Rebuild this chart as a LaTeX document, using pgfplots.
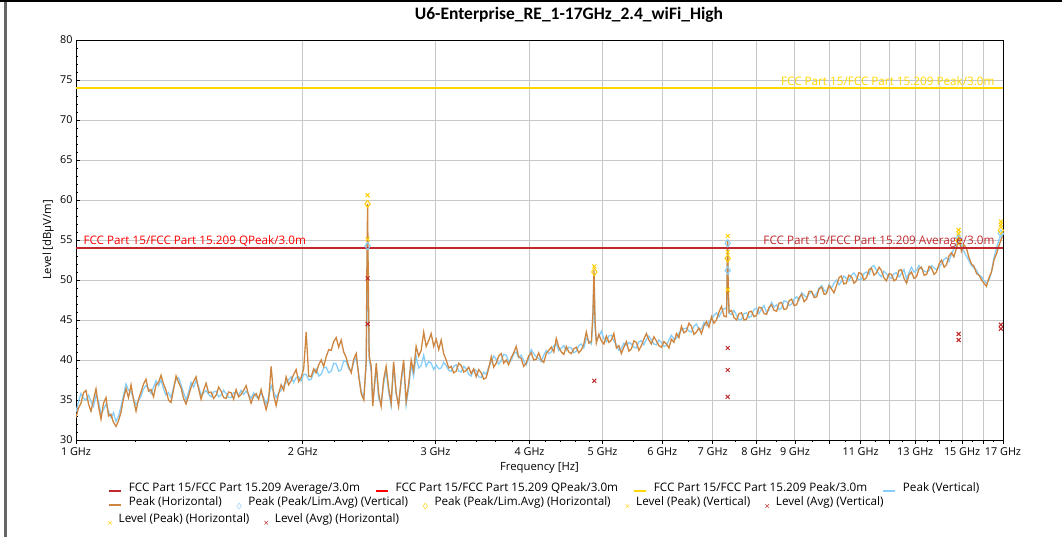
\documentclass[border=0pt]{standalone}
\usepackage{pgfplots}
\pgfplotsset{compat=1.18}
\usepackage{fontspec}
\setmainfont{Open Sans}
\newfontfamily\titlefont{Carlito}

\definecolor{traceH}{RGB}{205,133,63}
\definecolor{traceV}{RGB}{135,206,250}
\definecolor{limPk}{RGB}{255,215,0}
\definecolor{limAv}{RGB}{192,40,45}
\definecolor{limQp}{RGB}{255,0,0}
\definecolor{avgX}{RGB}{190,40,40}
\definecolor{pkX}{RGB}{255,205,0}

\newcommand{\lbl}{\fontsize{11.7}{14}\selectfont}

\pgfplotsset{
  lineleg/.style={legend image code/.code={\draw[##1,line width=1.2pt] (0pt,-3pt) -- (12.5pt,-3pt);}},
  markleg/.style={legend image code/.code={\draw[##1] plot coordinates {(6pt,-4pt)};}},
  legrow/.style={hide axis, anchor=south west, width=10pt, height=10pt, scale only axis,
    xmin=0, xmax=1, ymin=0, ymax=1, legend columns=-1,
    legend style={at={(0,0.5)}, anchor=west, draw=none, fill=none, inner sep=0pt,
      font=\lbl, nodes={inner sep=0pt},
      /tikz/every odd column/.append style={column sep=7pt},
      /tikz/every even column/.append style={column sep=15pt}}},
}

\begin{document}
\begin{tikzpicture}
\useasboundingbox (0pt,0pt) rectangle (1062pt,537pt);
\draw[line width=3pt, black!60] (5pt,0pt) -- (5pt,537pt);
\draw[line width=1.5pt, black] (0pt,536.2pt) -- (1062pt,536.2pt);

\begin{axis}[
  at={(76pt,97pt)}, anchor=south west,
  width=927pt, height=400pt, scale only axis,
  xmode=log, xmin=1, xmax=17, ymin=30, ymax=80,
  xtick={1,2,3,4,5,6,7,8,9,10,11,12,13,14,15,16,17},
  xticklabels={1 GHz,2 GHz,3 GHz,4 GHz,5 GHz,6 GHz,7 GHz,8 GHz,9 GHz,,11 GHz,,13 GHz,,15 GHz,,17 GHz},
  minor xtick={1.2,1.4,1.6,1.8,2.2,2.4,2.6,2.8,3.2,3.4,3.6,3.8,4.2,4.4,4.6,4.8,5.5,6.5,7.5,8.5,9.5,10.5,11.5,12.5,13.5,14.5,15.5,16.5},
  ytick={30,35,40,45,50,55,60,65,70,75,80},
  minor y tick num=4,
  xmajorgrids, ymajorgrids,
  grid style={black!22, line width=0.9pt},
  xtick align=outside, tick pos=left,
  major tick length=4pt, minor tick length=2.5pt,
  tick style={black, line width=0.6pt},
  axis line style={black, line width=0.9pt},
  ticklabel style={font=\fontsize{10.8}{12}\selectfont},
  /pgf/number format/assume math mode=true,
]
% Peak (Vertical)
\addplot[draw=traceV, line width=1.3pt] coordinates {
(1.0000,33.5) (1.0077,34.8) (1.0154,35.8) (1.0232,35.2) (1.0311,35.0) (1.0390,35.6) (1.0469,34.8) (1.0549,34.2) (1.0631,35.6) (1.0713,34.8)
(1.0795,33.3) (1.0878,33.8) (1.0961,34.5) (1.1045,33.6) (1.1130,32.8) (1.1215,33.4) (1.1301,32.3) (1.1388,33.0) (1.1476,34.2) (1.1564,35.6)
(1.1652,37.0) (1.1741,36.2) (1.1832,36.0) (1.1923,35.2) (1.2014,34.4) (1.2106,34.9) (1.2199,35.5) (1.2293,36.4) (1.2387,36.8) (1.2482,36.4)
(1.2578,35.8) (1.2674,36.6) (1.2772,37.4) (1.2870,36.8) (1.2969,37.5) (1.3068,36.4) (1.3168,35.6) (1.3269,35.9) (1.3371,35.3) (1.3474,36.6)
(1.3578,37.6) (1.3682,37.8) (1.3787,36.9) (1.3893,35.9) (1.3999,35.0) (1.4106,36.0) (1.4215,37.2) (1.4324,36.6) (1.4434,37.4) (1.4545,36.7)
(1.4657,35.6) (1.4769,35.9) (1.4883,36.2) (1.4997,35.7) (1.5112,35.4) (1.5228,36.0) (1.5345,36.1) (1.5463,35.4) (1.5582,35.6) (1.5701,36.2)
(1.5822,35.8) (1.5943,35.3) (1.6066,35.3) (1.6189,35.9) (1.6313,36.0) (1.6438,35.6) (1.6565,36.2) (1.6692,35.7) (1.6820,36.1) (1.6949,35.7)
(1.7079,35.2) (1.7210,35.9) (1.7343,35.4) (1.7476,35.2) (1.7610,35.9) (1.7745,35.3) (1.7881,34.5) (1.8018,35.4) (1.8157,36.8) (1.8296,36.0)
(1.8436,35.3) (1.8577,35.9) (1.8721,36.2) (1.8865,36.8) (1.9009,37.2) (1.9155,37.5) (1.9302,37.9) (1.9450,37.2) (1.9600,37.8) (1.9750,37.9)
(1.9902,37.4) (2.0055,38.2) (2.0208,38.2) (2.0363,37.5) (2.0520,37.6) (2.0677,38.4) (2.0836,38.9) (2.0996,38.0) (2.1157,38.2) (2.1319,39.0)
(2.1483,39.1) (2.1648,38.4) (2.1814,38.6) (2.1981,39.6) (2.2150,39.5) (2.2320,38.6) (2.2491,38.8) (2.2663,39.9) (2.2838,39.8) (2.3013,38.9)
(2.3190,38.6) (2.3368,39.7) (2.3547,40.3) (2.3728,38.2) (2.3910,36.0) (2.4100,35.4) (2.4279,39.5)
(2.4330,48.0) (2.4380,55.0) (2.4430,47.0) (2.4500,40.0) (2.4653,38.6) (2.4766,34.6) (2.5033,39.0) (2.5220,35.2) (2.541,34.5) (2.560,37.0)
(2.580,38.8) (2.600,36.0) (2.620,34.3) (2.640,39.5) (2.660,35.8) (2.680,34.4) (2.701,37.2) (2.722,39.6) (2.743,34.4) (2.764,36.5)
(2.785,39.4) (2.806,38.0) (2.828,40.5) (2.850,39.0) (2.872,39.3) (2.894,40.6) (2.916,39.2) (2.938,39.8) (2.961,39.6) (2.984,38.8)
(3.007,39.4) (3.030,38.9) (3.053,39.0) (3.076,39.7) (3.100,39.3) (3.124,38.7) (3.148,38.6) (3.172,39.2) (3.196,39.4) (3.221,38.6)
(3.246,38.5) (3.271,39.2) (3.296,38.9) (3.321,38.2) (3.346,38.0) (3.372,38.8) (3.398,38.7) (3.424,37.9) (3.450,37.8) (3.477,38.5)
(3.504,38.2) (3.531,39.2) (3.558,39.8) (3.585,40.5) (3.612,40.1) (3.640,39.5) (3.668,39.9) (3.696,40.7) (3.724,40.6) (3.753,39.8)
(3.782,39.9) (3.811,40.8) (3.840,41.0) (3.869,40.3) (3.899,40.6) (3.929,39.9) (3.959,39.4) (3.989,40.2) (4.020,41.3) (4.051,40.8)
(4.082,40.4) (4.113,40.2) (4.145,39.8) (4.177,40.6) (4.209,41.2) (4.241,40.8) (4.274,41.0) (4.307,41.8) (4.340,42.0) (4.373,41.2)
(4.407,41.5) (4.441,41.8) (4.475,41.2) (4.509,41.6) (4.544,41.5) (4.579,40.9) (4.614,41.1) (4.649,41.8) (4.685,42.0) (4.721,41.5)
(4.757,42.7) (4.794,42.4) (4.831,42.0) (4.855,45.0) (4.870,50.8) (4.885,44.0) (4.905,42.6) (4.943,42.9) (4.981,43.6) (5.019,42.7)
(5.058,42.3) (5.097,43.0) (5.136,43.1) (5.175,42.4) (5.215,41.9) (5.255,41.2) (5.295,41.4) (5.336,42.1) (5.377,41.8) (5.418,42.2)
(5.460,42.0) (5.502,41.6) (5.544,41.5) (5.586,42.3) (5.629,42.4) (5.672,41.9) (5.716,42.6) (5.760,43.0) (5.804,42.5) (5.848,42.0)
(5.893,41.9) (5.938,42.5) (5.984,42.2) (6.030,41.7) (6.077,41.8) (6.124,42.5) (6.170,43.1) (6.217,42.6) (6.266,42.7) (6.314,43.4)
(6.362,43.7) (6.411,43.9) (6.460,44.0) (6.510,43.6) (6.560,43.5) (6.610,44.2) (6.661,44.5) (6.712,43.8) (6.764,43.9) (6.816,44.7)
(6.868,44.3) (6.921,44.8) (6.974,45.0) (7.027,45.6) (7.081,45.9) (7.136,45.4) (7.191,46.0) (7.246,46.4) (7.302,46.5) (7.315,49.0)
(7.328,54.6) (7.341,48.0) (7.360,45.8) (7.414,45.7) (7.471,46.2) (7.529,45.6) (7.587,45.0) (7.645,45.1) (7.704,45.8) (7.763,45.9)
(7.822,45.3) (7.882,45.5) (7.942,46.3) (8.004,46.5) (8.065,45.8) (8.127,46.4) (8.189,46.8) (8.253,45.9) (8.316,46.3) (8.380,47.2)
(8.444,46.6) (8.509,46.9) (8.574,46.3) (8.640,46.5) (8.706,47.4) (8.774,47.3) (8.841,46.8) (8.909,47.0) (8.977,47.6) (9.046,47.9)
(9.115,47.5) (9.186,48.4) (9.256,48.1) (9.328,47.8) (9.399,48.3) (9.471,48.5) (9.544,48.0) (9.618,48.3) (9.691,49.0) (9.766,49.3)
(9.841,48.7) (9.91,48.5) (9.99,49.4) (10.06,49.0) (10.14,49.6) (10.22,50.0) (10.30,49.4) (10.37,49.8) (10.45,50.5) (10.53,50.2)
(10.61,49.9) (10.70,50.6) (10.78,50.9) (10.86,50.4) (10.94,50.0) (11.03,50.1) (11.11,50.8) (11.20,51.0) (11.29,50.7) (11.37,51.6)
(11.46,51.8) (11.55,51.2) (11.64,50.7) (11.72,50.4) (11.81,51.1) (11.90,50.8) (12.00,50.3) (12.09,50.2) (12.18,50.8) (12.27,50.9)
(12.37,50.4) (12.46,50.8) (12.56,51.3) (12.66,50.1) (12.75,50.9) (12.85,51.6) (12.95,51.0) (13.05,51.2) (13.15,51.8) (13.25,51.4)
(13.36,51.1) (13.46,51.0) (13.56,51.2) (13.66,51.8) (13.77,51.5) (13.87,51.3) (13.98,51.6) (14.09,52.0) (14.20,52.6) (14.30,52.8)
(14.41,52.3) (14.52,53.2) (14.63,53.9) (14.75,54.6) (14.85,55.6) (14.97,54.2) (15.08,53.6) (15.20,53.0) (15.32,52.4) (15.44,51.8)
(15.56,51.5) (15.68,51.2) (15.80,50.6) (15.92,50.4) (16.04,49.9) (16.16,49.6) (16.29,50.0) (16.41,51.0) (16.54,52.8) (16.67,54.0)
(16.79,55.0) (16.92,55.8) (17.0,56.0)
};
% Peak (Horizontal)
\addplot[draw=traceH, line width=1.3pt] coordinates {
(1.0000,32.8) (1.0077,34.0) (1.0154,34.6) (1.0232,35.9) (1.0311,36.2) (1.0390,34.5) (1.0469,33.6) (1.0549,35.0) (1.0631,36.4) (1.0713,34.2)
(1.0795,32.6) (1.0878,34.6) (1.0961,35.3) (1.1045,33.0) (1.1130,33.2) (1.1215,32.2) (1.1301,31.7) (1.1388,32.4) (1.1476,33.5) (1.1564,35.2)
(1.1652,36.4) (1.1741,35.3) (1.1832,36.9) (1.1923,35.0) (1.2014,33.6) (1.2106,35.1) (1.2199,36.0) (1.2293,37.0) (1.2387,37.6) (1.2482,36.1)
(1.2578,36.3) (1.2674,35.4) (1.2772,36.9) (1.2870,37.2) (1.2969,38.1) (1.3068,37.0) (1.3168,36.2) (1.3269,35.0) (1.3371,34.7) (1.3474,36.3)
(1.3578,38.0) (1.3682,37.2) (1.3787,36.5) (1.3893,35.2) (1.3999,34.5) (1.4106,35.5) (1.4215,36.6) (1.4324,37.3) (1.4434,37.9) (1.4545,36.4)
(1.4657,35.1) (1.4769,36.2) (1.4883,37.1) (1.4997,35.9) (1.5112,36.0) (1.5228,35.2) (1.5345,35.6) (1.5463,36.6) (1.5582,36.1) (1.5701,35.3)
(1.5822,35.2) (1.5943,36.0) (1.6066,35.9) (1.6189,35.1) (1.6313,36.3) (1.6438,35.4) (1.6565,35.7) (1.6692,36.2) (1.6820,36.8) (1.6949,35.6)
(1.7079,34.6) (1.7210,35.5) (1.7343,35.8) (1.7476,35.1) (1.7610,36.3) (1.7745,35.0) (1.7881,33.8) (1.8018,35.0) (1.8157,39.2) (1.8296,35.6)
(1.8436,34.3) (1.8577,35.8) (1.8721,36.9) (1.8865,36.2) (1.9009,37.9) (1.9155,36.9) (1.9302,37.4) (1.9450,38.2) (1.9600,38.8) (1.9750,37.3)
(1.9902,37.8) (2.0055,38.9) (2.0208,43.5) (2.0363,38.0) (2.0520,37.9) (2.0677,38.9) (2.0836,38.4) (2.0996,39.4) (2.1157,40.0) (2.1319,39.2)
(2.1483,40.4) (2.1648,41.3) (2.1814,41.2) (2.1981,42.3) (2.2150,42.8) (2.2320,41.6) (2.2491,42.5) (2.2663,41.0) (2.2838,40.3) (2.3013,39.2)
(2.3190,38.4) (2.3368,40.1) (2.3547,40.8) (2.3728,38.0) (2.3910,35.8) (2.4100,35.0) (2.4279,40.0)
(2.4330,52.0) (2.4380,59.5) (2.4430,50.0) (2.4500,40.5) (2.4653,39.2) (2.4766,34.2) (2.5033,39.6) (2.5220,35.8) (2.541,34.2) (2.560,37.5)
(2.580,39.2) (2.600,36.5) (2.620,34.6) (2.640,39.8) (2.660,36.0) (2.680,34.2) (2.701,37.5) (2.722,40.0) (2.743,34.8) (2.764,37.0)
(2.785,40.0) (2.806,38.6) (2.828,41.7) (2.850,40.5) (2.872,41.2) (2.894,43.5) (2.916,41.7) (2.938,42.4) (2.961,43.3) (2.984,41.7)
(3.007,42.6) (3.030,41.3) (3.053,42.5) (3.076,40.8) (3.100,40.0) (3.124,39.0) (3.148,39.2) (3.172,38.4) (3.196,38.6) (3.221,39.6)
(3.246,39.3) (3.271,38.5) (3.296,38.7) (3.321,39.1) (3.346,38.3) (3.372,38.9) (3.398,37.9) (3.424,38.8) (3.450,38.4) (3.477,37.6)
(3.504,37.8) (3.531,39.0) (3.558,40.4) (3.585,39.1) (3.612,39.6) (3.640,40.5) (3.668,40.8) (3.696,39.6) (3.724,40.0) (3.753,39.4)
(3.782,40.3) (3.811,40.9) (3.840,41.7) (3.869,40.4) (3.899,40.2) (3.929,39.2) (3.959,39.6) (3.989,40.5) (4.020,40.9) (4.051,40.0)
(4.082,40.1) (4.113,40.9) (4.145,40.0) (4.177,39.7) (4.209,40.8) (4.241,41.2) (4.274,41.6) (4.307,41.0) (4.340,42.7) (4.373,41.6)
(4.407,41.0) (4.441,40.7) (4.475,41.7) (4.509,41.0) (4.544,40.8) (4.579,41.4) (4.614,41.6) (4.649,40.9) (4.685,41.25) (4.721,42.0)
(4.757,43.5) (4.794,42.1) (4.831,42.3) (4.855,46.0) (4.870,51.2) (4.885,45.0) (4.905,42.1) (4.943,43.2) (4.981,42.4) (5.019,42.0)
(5.058,43.0) (5.097,42.2) (5.136,42.5) (5.175,43.3) (5.215,41.5) (5.255,41.8) (5.295,40.8) (5.336,41.6) (5.377,42.3) (5.418,41.1)
(5.460,41.4) (5.502,42.4) (5.544,42.2) (5.586,41.2) (5.629,41.8) (5.672,42.6) (5.716,43.3) (5.760,42.5) (5.804,42.0) (5.848,42.9)
(5.893,42.4) (5.938,41.8) (5.984,41.6) (6.030,42.3) (6.077,42.0) (6.124,41.5) (6.170,42.6) (6.217,42.2) (6.266,43.3) (6.314,42.8)
(6.362,44.2) (6.411,43.4) (6.460,43.6) (6.510,44.6) (6.560,44.2) (6.610,43.2) (6.661,43.5) (6.712,44.0) (6.764,43.3) (6.816,44.3)
(6.868,44.8) (6.921,44.1) (6.974,45.4) (7.027,44.6) (7.081,45.0) (7.136,46.0) (7.191,46.7) (7.246,45.5) (7.302,45.4) (7.315,50.0)
(7.328,55.0) (7.341,49.0) (7.360,46.0) (7.414,46.2) (7.471,45.3) (7.529,45.0) (7.587,45.8) (7.645,45.9) (7.704,45.0) (7.763,45.1)
(7.822,46.0) (7.882,46.1) (7.942,45.4) (8.004,45.6) (8.065,46.6) (8.127,46.5) (8.189,45.8) (8.253,45.7) (8.316,46.6) (8.380,46.9)
(8.444,46.2) (8.509,46.1) (8.574,47.1) (8.640,47.2) (8.706,46.3) (8.774,46.4) (8.841,47.4) (8.909,47.6) (8.977,46.8) (9.046,46.9)
(9.115,47.8) (9.186,48.2) (9.256,47.3) (9.328,47.6) (9.399,48.6) (9.471,48.6) (9.544,47.8) (9.618,47.9) (9.691,48.9) (9.766,49.1)
(9.841,48.2) (9.91,48.3) (9.99,49.3) (10.06,48.9) (10.14,48.4) (10.22,49.3) (10.30,50.3) (10.37,50.5) (10.45,49.5) (10.53,49.6)
(10.61,50.6) (10.70,50.4) (10.78,49.6) (10.86,49.9) (10.94,50.9) (11.03,50.8) (11.11,50.0) (11.20,50.3) (11.29,51.3) (11.37,51.5)
(11.46,50.6) (11.55,50.9) (11.64,51.6) (11.72,51.2) (11.81,50.3) (11.90,49.9) (12.00,50.8) (12.09,50.7) (12.18,49.9) (12.27,50.1)
(12.37,51.2) (12.46,51.3) (12.56,50.2) (12.66,49.6) (12.75,50.6) (12.85,51.0) (12.95,50.2) (13.05,50.4) (13.15,51.4) (13.25,51.6)
(13.36,50.6) (13.46,50.7) (13.56,51.7) (13.66,51.5) (13.77,50.7) (13.87,51.0) (13.98,52.0) (14.09,52.5) (14.20,51.6) (14.30,51.9)
(14.41,53.0) (14.52,53.4) (14.63,52.9) (14.75,54.0) (14.85,55.3) (14.97,53.6) (15.08,54.4) (15.20,54.0) (15.32,52.8) (15.44,52.0)
(15.56,51.7) (15.68,50.8) (15.80,50.6) (15.92,50.0) (16.04,49.6) (16.16,49.2) (16.29,50.3) (16.41,51.0) (16.54,52.5) (16.67,53.3)
(16.79,54.3) (16.92,55.2) (17.0,55.6)
};
% limit lines
\addplot[draw=limQp, line width=1.2pt] coordinates {(1,54) (17,54)};
\addplot[draw=limAv, line width=1.2pt] coordinates {(1,54) (17,54)};
\addplot[draw=limPk, line width=1.2pt] coordinates {(1,74) (17,74)};
% Peak (Peak/Lim.Avg) (Vertical)
\addplot[only marks, mark=diamond, mark size=3.6pt, color=traceV, mark options={line width=1pt}] coordinates {
(2.438,54.25) (7.33,54.6) (7.33,51.2) (14.84,55.2) (16.89,55.8)};
% Peak (Peak/Lim.Avg) (Horizontal)
\addplot[only marks, mark=diamond, mark size=3.6pt, color=pkX, mark options={line width=1pt}] coordinates {
(2.438,59.5) (4.875,51.0) (7.33,52.7) (14.84,54.9) (16.89,56.2)};
% Level (Peak) (Vertical)
\addplot[only marks, mark=x, mark size=2.8pt, color=pkX, mark options={line width=1pt}] coordinates {
(2.438,55.1) (7.33,53.5) (7.33,48.8) (14.84,55.8) (16.89,56.9)};
% Level (Peak) (Horizontal)
\addplot[only marks, mark=x, mark size=2.8pt, color=pkX, mark options={line width=1pt}] coordinates {
(2.438,60.6) (4.875,51.7) (7.33,55.5) (14.84,56.25) (16.89,57.3)};
% Level (Avg) (Vertical)
\addplot[only marks, mark=x, mark size=2.8pt, color=avgX, mark options={line width=1pt}] coordinates {
(2.438,44.5) (7.33,38.75) (7.33,35.4) (14.84,42.5) (16.89,43.9)};
% Level (Avg) (Horizontal)
\addplot[only marks, mark=x, mark size=2.8pt, color=avgX, mark options={line width=1pt}] coordinates {
(2.438,50.2) (4.875,37.4) (7.33,41.5) (14.84,43.25) (16.89,44.4)};
\end{axis}

% limit line labels
\node[anchor=base east, text=limPk, font=\lbl] at (998pt,451pt) {FCC Part 15/FCC Part 15.209 Peak/3.0m};
\node[anchor=base east, text=limAv, font=\lbl] at (998pt,292pt) {FCC Part 15/FCC Part 15.209 Average/3.0m};
\node[anchor=base west, text=limQp, font=\lbl] at (80pt,292pt) {FCC Part 15/FCC Part 15.209 QPeak/3.0m};

% titles
\node[anchor=base, font=\titlefont\bfseries\fontsize{17.5}{21}\selectfont] at (569pt,517pt) {U6-Enterprise\_RE\_1-17GHz\_2.4\_wiFi\_High};
\node[anchor=base, font=\fontsize{11.3}{13}\selectfont] at (539.5pt,66pt) {Frequency [Hz]};
\node[anchor=base, rotate=90, font=\fontsize{11.3}{13}\selectfont] at (51pt,297pt) {Level [dBµV/m]};

% legend, three rows
\begin{axis}[legrow, at={(108pt,44pt)}]
\addlegendimage{lineleg, color=limAv}
\addlegendentry{FCC Part 15/FCC Part 15.209 Average/3.0m}
\addlegendimage{lineleg, color=limQp}
\addlegendentry{FCC Part 15/FCC Part 15.209 QPeak/3.0m}
\addlegendimage{lineleg, color=limPk}
\addlegendentry{FCC Part 15/FCC Part 15.209 Peak/3.0m}
\addlegendimage{lineleg, color=traceV}
\addlegendentry{Peak (Vertical)}
\end{axis}
\begin{axis}[legrow, at={(108pt,29pt)}]
\addlegendimage{lineleg, color=traceH}
\addlegendentry{Peak (Horizontal)}
\addlegendimage{markleg, only marks, mark=diamond, mark size=3pt, color=traceV}
\addlegendentry{Peak (Peak/Lim.Avg) (Vertical)}
\addlegendimage{markleg, only marks, mark=diamond, mark size=3pt, color=pkX}
\addlegendentry{Peak (Peak/Lim.Avg) (Horizontal)}
\addlegendimage{markleg, only marks, mark=x, mark size=2.5pt, color=pkX}
\addlegendentry{Level (Peak) (Vertical)}
\addlegendimage{markleg, only marks, mark=x, mark size=2.5pt, color=avgX}
\addlegendentry{Level (Avg) (Vertical)}
\end{axis}
\begin{axis}[legrow, at={(108pt,13pt)}]
\addlegendimage{markleg, only marks, mark=x, mark size=2.5pt, color=pkX}
\addlegendentry{Level (Peak) (Horizontal)}
\addlegendimage{markleg, only marks, mark=x, mark size=2.5pt, color=avgX}
\addlegendentry{Level (Avg) (Horizontal)}
\end{axis}
\end{tikzpicture}
\end{document}
